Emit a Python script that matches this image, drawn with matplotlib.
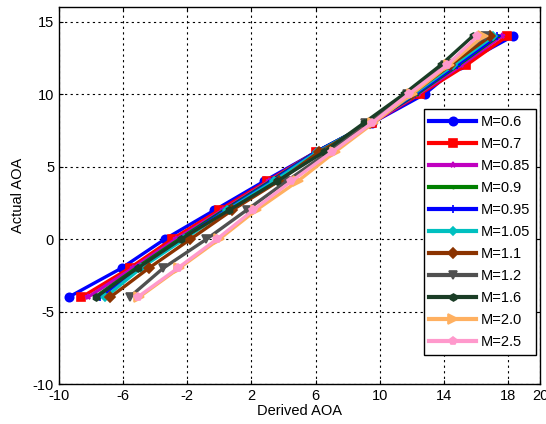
import matplotlib
matplotlib.use("Agg")
import matplotlib.pyplot as plt

plt.rcParams['font.family'] = ['Liberation Sans', 'DejaVu Sans']
plt.rcParams['axes.unicode_minus'] = False

# actual AOA (same for every Mach number)
actual_aoa = [-4, -2, 0, 2, 4, 6, 8, 10, 12, 14]

# derived AOA per Mach number
d_06 = [-9.4, -6.1, -3.4, -0.3, 2.8, 6.0, 9.5, 12.8, 15.0, 18.3]
d_07 = [-8.6, -5.6, -2.95, 0.0, 3.0, 6.0, 9.5, 12.5, 15.4, 17.95]
d_085 = [-8.2, -5.4, -2.7, 0.2, 3.1, 6.0, 9.5, 12.4, 15.1, 17.6]
d_09 = [-7.75, -5.2, -2.5, 0.3, 3.2, 6.0, 9.4, 12.3, 14.9, 17.4]
d_095 = [-7.45, -5.05, -2.35, 0.4, 3.3, 6.0, 9.4, 12.2, 14.8, 17.3]
d_105 = [-7.1, -4.9, -2.2, 0.5, 3.4, 6.1, 9.4, 12.1, 14.6, 17.1]
d_11 = [-6.8, -4.4, -1.8, 0.8, 3.7, 6.2, 9.4, 12.0, 14.4, 16.9]
d_12 = [-5.6, -3.5, -0.8, 1.7, 4.2, 6.8, 9.1, 11.7, 14.1, 16.6]
d_16 = [-7.7, -5.1, -2.4, 0.6, 3.6, 6.5, 9.0, 11.5, 13.8, 15.8]
d_20 = [-5.0, -2.5, 0.0, 2.3, 4.9, 7.2, 9.6, 12.0, 14.3, 16.45]
d_25 = [-5.1, -2.6, -0.15, 2.1, 4.5, 7.0, 9.5, 11.8, 14.2, 16.1]

labels = ['M=0.6', 'M=0.7', 'M=0.85', 'M=0.9', 'M=0.95', 'M=1.05',
          'M=1.1', 'M=1.2', 'M=1.6', 'M=2.0', 'M=2.5']
series = [d_06, d_07, d_085, d_09, d_095, d_105, d_11, d_12, d_16, d_20, d_25]
colors = ['#0000ff', '#ff0000', '#c000c0', '#008000', '#0000ff', '#00c0c0',
          '#8b3300', '#505050', '#1a3d26', '#ffb060', '#ff99cc']
markers = ['o', 's', '*', '.', '+', 'D', 'D', 'v', 'h', '>', 'p']
msizes = [6, 6, 4, 3, 6, 4, 5.5, 6, 5, 7, 6]

fig = plt.figure(figsize=(5.46, 4.24), dpi=100)
ax = fig.add_axes([0.108, 0.094, 0.881, 0.889])

for xs, lab, c, m, ms in zip(series, labels, colors, markers, msizes):
    ax.plot(xs, actual_aoa, color=c, marker=m, markersize=ms, lw=2.4,
            markeredgewidth=1.2, label=lab)

ax.set_xlim(-10, 20)
ax.set_ylim(-10, 16)
ax.set_xticks([-10, -6, -2, 2, 6, 10, 14, 18, 20])
ax.set_yticks([-10, -5, 0, 5, 10, 15])
ax.grid(True, color='black', linestyle=(0, (2, 3)), linewidth=0.8)
ax.tick_params(direction='in', top=True, right=True, labelsize=10.5, length=3)
for s in ax.spines.values():
    s.set_linewidth(1.0)

ax.set_xlabel('Derived AOA', fontsize=10.5, labelpad=1)
ax.set_ylabel('Actual AOA', fontsize=10.5, labelpad=6)

leg = ax.legend(loc='lower right', bbox_to_anchor=(0.997, 0.07), fontsize=10.5,
                frameon=True, fancybox=False, edgecolor='black', framealpha=1,
                handlelength=3.2, borderpad=0.4, labelspacing=0.55,
                handletextpad=0.3, borderaxespad=0.2)
leg.get_frame().set_linewidth(1.0)
for h in leg.get_lines():
    h.set_linewidth(3.0)

fig.savefig('out.png', dpi=100)
